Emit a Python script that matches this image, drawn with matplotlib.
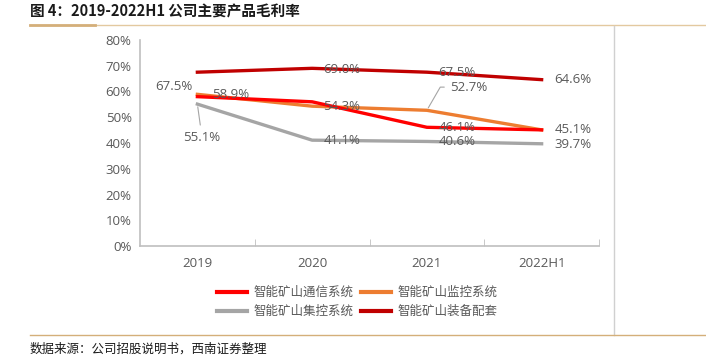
import matplotlib.pyplot as plt
from matplotlib.lines import Line2D
import numpy as np

plt.rcParams['font.family'] = ['Noto Sans CJK SC', 'DejaVu Sans']

years = ['2019', '2020', '2021', '2022H1']
tongxin = [58.0, 56.0, 46.1, 45.1]    # 智能矿山通信系统
jiankong = [58.9, 54.3, 52.7, 45.1]   # 智能矿山监控系统
jikong = [55.1, 41.1, 40.6, 39.7]     # 智能矿山集控系统
zhuangbei = [67.5, 69.0, 67.5, 64.6]  # 智能矿山装备配套
names = ['智能矿山通信系统', '智能矿山监控系统', '智能矿山集控系统', '智能矿山装备配套']

W, H = 706, 355
fig = plt.figure(figsize=(W / 100, H / 100), dpi=100)
ax = fig.add_axes([140 / W, (H - 246) / H, 459 / W, 206 / H])

x = np.arange(len(years))
lw = 2.4
l1, = ax.plot(x, tongxin, color='#FF0000', lw=lw, label=names[0], zorder=4)
l2, = ax.plot(x, jiankong, color='#ED7D31', lw=lw, label=names[1], zorder=3)
l3, = ax.plot(x, jikong, color='#A5A5A5', lw=lw, label=names[2], zorder=3)
l4, = ax.plot(x, zhuangbei, color='#C00000', lw=lw, label=names[3], zorder=3)

ax.set_xlim(-0.5, 3.5)
ax.set_ylim(0, 80)
ax.set_yticks(np.arange(0, 81, 10))
ax.set_yticklabels([f'{v}%' for v in range(0, 81, 10)])
ax.set_xticks(x)
ax.set_xticklabels(years)
ax.set_xticks([0.5, 1.5, 2.5, 3.5], minor=True)
ax.tick_params(axis='x', which='major', length=0, pad=8)
ax.tick_params(axis='x', which='minor', direction='in', length=5, color='#BFBFBF')
ax.tick_params(axis='y', length=0, pad=6)
ax.tick_params(labelsize=9.5, labelcolor='#595959')
for lab in ax.get_xticklabels() + ax.get_yticklabels():
    lab.set_family(['Open Sans', 'DejaVu Sans'])
for s in ['top', 'right']:
    ax.spines[s].set_visible(False)
for s in ['left', 'bottom']:
    ax.spines[s].set_color('#BFBFBF')
    ax.spines[s].set_linewidth(1.2)

tc = '#595959'
fs = 9.5
kw = dict(color=tc, fontsize=fs, family=['Open Sans', 'DejaVu Sans'], va='center', zorder=5)
ax.text(-0.04, 61.8, f'{zhuangbei[0]}%', ha='right', **kw)
ax.text(0.13, jiankong[0] - 0.2, f'{jiankong[0]}%', ha='left', **kw)
ax.annotate(f'{jikong[0]}%', xy=(0, jikong[0]), xytext=(0.04, 42.3), ha='center',
            arrowprops=dict(arrowstyle='-', color='#A5A5A5', lw=0.8), **kw)
ax.text(1.26, zhuangbei[1] - 0.6, f'{zhuangbei[1]}%', ha='center', **kw)
ax.text(1.26, jiankong[1] - 0.2, f'{jiankong[1]}%', ha='center', **kw)
ax.text(1.26, jikong[1] - 0.2, f'{jikong[1]}%', ha='center', **kw)
ax.text(2.26, zhuangbei[2] - 0.3, f'{zhuangbei[2]}%', ha='center', **kw)
ax.annotate(f'{jiankong[2]}%', xy=(2, jiankong[2]), xytext=(2.2, 61.7), ha='left',
            arrowprops=dict(arrowstyle='-', color='#A5A5A5', lw=0.8,
                            connectionstyle='angle,angleA=0,angleB=60,rad=0'), **kw)
ax.text(2.26, tongxin[2] - 0.2, f'{tongxin[2]}%', ha='center', **kw)
ax.text(2.26, jikong[2] - 0.2, f'{jikong[2]}%', ha='center', **kw)
ax.text(3.11, zhuangbei[3], f'{zhuangbei[3]}%', ha='left', **kw)
ax.text(3.11, tongxin[3] + 0.3, f'{tongxin[3]}%', ha='left', **kw)
ax.text(3.11, jikong[3] - 0.3, f'{jikong[3]}%', ha='left', **kw)

# legend fills column by column, so order to get rows: 通信/监控, 集控/装备
leg = fig.legend([l1, l3, l2, l4], [names[0], names[2], names[1], names[3]],
                 loc='center', bbox_to_anchor=(357 / W, 1 - 302 / H), ncol=2, frameon=False,
                 fontsize=9, handlelength=2.4, columnspacing=0.6, handletextpad=0.5,
                 labelspacing=0.5, labelcolor='#595959')
for h in leg.get_lines():
    h.set_linewidth(3)

# title and frame lines
fig.text(30 / W, 1 - 12 / H, '图 4：2019-2022H1 公司主要产品毛利率', fontsize=10.5,
         fontweight='bold', va='center', ha='left', color='#1a1a1a')
fig.add_artist(Line2D([30 / W, 1], [1 - 25 / H] * 2, color='#E3C9A0', lw=1))
fig.add_artist(Line2D([30 / W, 95 / W], [1 - 25 / H] * 2, color='#D4AF7A', lw=2))
fig.add_artist(Line2D([614 / W] * 2, [1 - 26 / H, 1 - 335 / H], color='#D0D0D0', lw=1))
fig.add_artist(Line2D([30 / W, 1], [1 - 335 / H] * 2, color='#D4AF7A', lw=1))
fig.text(30 / W, 1 - 349 / H, '数据来源：公司招股说明书，西南证券整理', fontsize=9,
         style='italic', va='center', ha='left', color='#1a1a1a')

fig.savefig('out.png', dpi=100)
